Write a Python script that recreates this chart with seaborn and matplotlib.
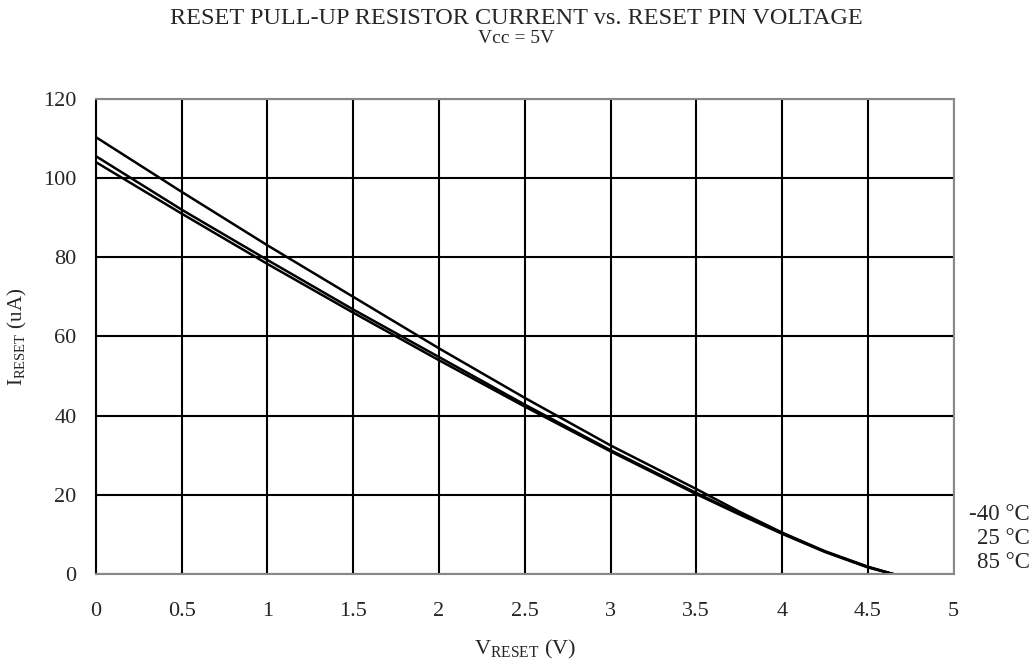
import pandas as pd
import matplotlib.pyplot as plt
import seaborn as sns

# -----------------------------
# Data
# -----------------------------
v_reset = [0, 0.5, 1, 1.5, 2, 2.5, 3, 3.5, 3.75, 4, 4.25, 4.5, 4.65]
i_m40 = [110.3, 96.5, 83.0, 70.0, 57.0, 44.5, 32.5, 21.5, 15.8, 10.5, 5.8, 1.9, 0.0]
i_25 = [105.5, 92.0, 79.3, 66.8, 54.8, 42.8, 31.3, 20.5, 15.3, 10.3, 5.7, 1.8, 0.0]
i_85 = [104.0, 91.0, 78.3, 66.0, 54.0, 42.3, 31.0, 20.2, 15.1, 10.2, 5.6, 1.7, 0.0]
temps = ['-40 °C', '25 °C', '85 °C']

df = pd.concat([
    pd.DataFrame({'V': v_reset, 'I': vals, 'Temp': t})
    for t, vals in zip(temps, [i_m40, i_25, i_85])
])

# -----------------------------
# Plot
# -----------------------------
sns.set_style("white")
plt.rcParams['font.family'] = ['Liberation Serif', 'DejaVu Serif']
plt.rcParams['mathtext.fontset'] = 'custom'
plt.rcParams['mathtext.rm'] = 'Liberation Serif'

fig = plt.figure(figsize=(10.32, 6.63), dpi=100)
ax = fig.add_axes([0.093, 0.134, 0.831, 0.717])

sns.lineplot(data=df, x='V', y='I', hue='Temp', palette=['black'] * 3,
             linewidth=1.8, legend=False, ax=ax)

ax.set_xlim(0, 5)
ax.set_ylim(0, 120)
ax.set_xticks([0, 0.5, 1, 1.5, 2, 2.5, 3, 3.5, 4, 4.5, 5])
ax.set_xticklabels(['0', '0.5', '1', '1.5', '2', '2.5', '3', '3.5', '4', '4.5', '5'])
ax.set_yticks(range(0, 121, 20))
ax.grid(True, color='black', linewidth=1.5)
ax.set_axisbelow(True)

for side in ['top', 'right', 'bottom']:
    ax.spines[side].set_color('#888888')
    ax.spines[side].set_linewidth(1.5)
ax.spines['left'].set_color('black')
ax.spines['left'].set_linewidth(1.5)
ax.tick_params(axis='both', direction='out', length=6, width=1.2,
               color='#888888', labelsize=16)
ax.tick_params(axis='x', pad=14)
ax.tick_params(axis='y', pad=8)

ax.set_xlabel(r'V$_{\mathrm{RESET}}$ (V)', fontsize=16, labelpad=12)
ax.set_ylabel(r'I$_{\mathrm{RESET}}$ (uA)', fontsize=15, labelpad=10)

fig.text(0.5, 0.988, 'RESET PULL-UP RESISTOR CURRENT vs. RESET PIN VOLTAGE',
         ha='center', va='top', fontsize=17.5)
fig.text(0.5, 0.955, 'Vcc = 5V', ha='center', va='top', fontsize=14)

for k, t in enumerate(temps):
    fig.text(0.998, 1 - (515 + 23.5 * k) / 663, t, ha='right', va='center', fontsize=16.5)

plt.savefig('out.png', dpi=100)
